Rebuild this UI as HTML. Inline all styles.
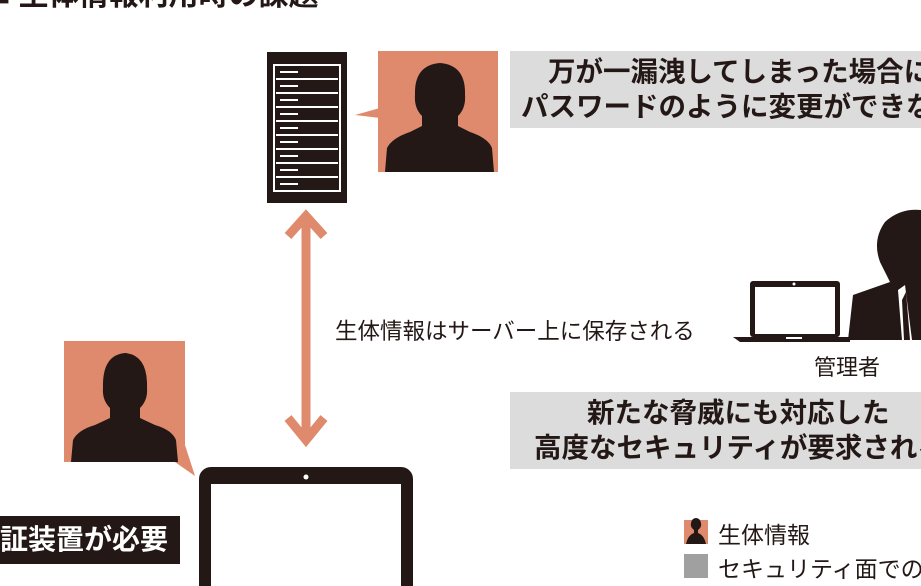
<!DOCTYPE html>
<html><head><meta charset="utf-8"><style>
body{margin:0;width:921px;height:586px;overflow:hidden;background:#fff;position:relative;font-family:"Liberation Sans","Noto Sans CJK JP",sans-serif;color:#231815}
.a{position:absolute}
.gray{background:#dcdcdc;font-weight:bold;font-size:27.5px;line-height:35px;white-space:nowrap;overflow:hidden}
</style></head><body>
<div class="a" style="left:-8px;top:-30px;font-size:30px;font-weight:bold;white-space:nowrap">■ 生体情報利用時の課題</div>

<svg class="a" style="left:0;top:0" width="921" height="586">
<rect x="267" y="52" width="80" height="151" fill="#231815"/>
<rect x="274" y="65" width="66" height="126" fill="none" stroke="#fff" stroke-width="2"/>
<g fill="#fff">
<rect x="276" y="78" width="62" height="2"/><rect x="276" y="92" width="62" height="2"/><rect x="276" y="106" width="62" height="2"/><rect x="276" y="120" width="62" height="2"/><rect x="276" y="134" width="62" height="2"/><rect x="276" y="148" width="62" height="2"/><rect x="276" y="162" width="62" height="2"/><rect x="276" y="176" width="62" height="2"/>
<rect x="280" y="71" width="18" height="2"/><rect x="280" y="85" width="18" height="2"/><rect x="280" y="99" width="18" height="2"/><rect x="280" y="113" width="18" height="2"/><rect x="280" y="127" width="18" height="2"/><rect x="280" y="141" width="18" height="2"/><rect x="280" y="155" width="18" height="2"/><rect x="280" y="169" width="18" height="2"/><rect x="280" y="183" width="18" height="2"/>
</g>
<rect x="378" y="51" width="120" height="121" fill="#df8a6d"/>
<polygon points="380,108 355,115 380,118" fill="#df8a6d"/>
<path d="M385 172 L387 148 Q392 138 410 132 L422 126 L422 116 Q414 108 415 95 Q414 65 440 63 Q466 65 465 95 Q466 108 458 116 L458 126 L470 132 Q488 138 492 148 L494 172 Z" fill="#231815"/>
<g stroke="#df8a6d" stroke-width="9" fill="none">
<line x1="306" y1="215" x2="306" y2="440"/>
<polyline points="288,236 306,216 324,236"/>
<polyline points="288,418 306,440 324,418"/>
</g>
<rect x="64" y="341" width="121" height="121" fill="#df8a6d"/>
<polygon points="172,460 195,476 185,445" fill="#df8a6d"/>
<path d="M71 462 L73 440 Q78 430 95 425 L110 418 L110 408 Q102 400 103 388 Q102 355 125 353 Q148 355 147 388 Q148 400 140 408 L140 418 L155 425 Q172 430 176 440 L178 462 Z" fill="#231815"/>
<rect x="205" y="473" width="202" height="130" rx="6" fill="none" stroke="#231815" stroke-width="12"/>
<rect x="205" y="470" width="202" height="14" fill="#231815"/>
<circle cx="306" cy="477" r="2.5" fill="#fff"/>
<rect x="750" y="281" width="90" height="56" rx="3" fill="#231815"/>
<rect x="755" y="287" width="80" height="47" fill="#fff"/>
<circle cx="794" cy="284" r="1.5" fill="#fff"/>
<path d="M733 337 L850 337 L850 342 L740 342 Z" fill="#231815"/>
<rect x="786" y="337" width="16" height="2" fill="#fff"/>
<path d="M848 340 L853 295 L890 282 L880 262 Q872 240 885 222 Q900 208 921 210 L921 340 Z" fill="#231815"/>
<path d="M898 290 L905 285 L912 340 L902 340 Z" fill="#fff"/>
<path d="M902 300 L906 292 L910 340 L904 340 Z" fill="#231815"/>
<rect x="684" y="520" width="24" height="24" fill="#df8a6d"/>
<path d="M686 544 Q688 535 694 533 L694 530 Q690 527 691 523 Q692 518 696 518 Q700 518 701 523 Q702 527 698 530 L698 533 Q704 535 706 544 Z" fill="#231815"/>
<rect x="684" y="554" width="24" height="24" fill="#a0a0a0"/>
</svg>

<div class="a gray" style="left:510px;top:51px;width:411px;height:77px;padding-top:3px;box-sizing:border-box">
<div style="padding-left:38px">万が一漏洩してしまった場合に</div>
<div style="padding-left:11px">パスワードのように変更ができない</div>
</div>
<div class="a" style="left:335px;top:314px;font-size:22.5px;white-space:nowrap">生体情報はサーバー上に保存される</div>
<div class="a" style="left:814px;top:350px;font-size:22px">管理者</div>
<div class="a gray" style="left:510px;top:392px;width:411px;height:77px;padding-top:3px;box-sizing:border-box">
<div style="padding-left:77px">新たな脅威にも対応した</div>
<div style="padding-left:24px">高度なセキュリティが要求される</div>
</div>
<div class="a" style="left:0;top:516px;width:180px;height:48px;background:#231815;color:#fff;font-weight:bold;font-size:28px;line-height:48px;white-space:nowrap;overflow:hidden;text-align:right;padding-right:14px;box-sizing:border-box">証装置が必要</div>
<div class="a" style="left:718px;top:516px;font-size:23px;white-space:nowrap">生体情報</div>
<div class="a" style="left:718px;top:550px;font-size:23px;white-space:nowrap">セキュリティ面での課題</div>
</body></html>
